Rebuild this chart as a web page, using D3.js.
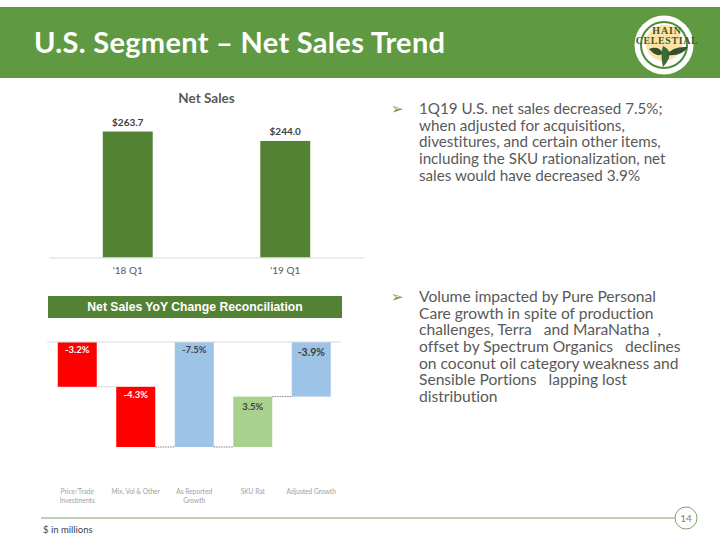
<!DOCTYPE html>
<html>
<head>
<meta charset="utf-8">
<script src="https://cdn.jsdelivr.net/npm/d3@7"></script>
<style>
  html, body { margin: 0; padding: 0; background: #fff; }
  svg { display: block; }
  text { font-family: "Lato", "Open Sans", sans-serif; font-variant-ligatures: none; }
</style>
</head>
<body>
<div id="chart"></div>
<script>
// DATA
const salesPeriods = ["'18 Q1", "'19 Q1"];
const salesValues = [263.7, 244.0];

const bridgeNames = [
  ["Price/Trade", "Investments"],
  ["Mix, Vol & Other"],
  ["As Reported", "Growth"],
  ["SKU Rat"],
  ["Adjusted Growth"]
];
const bridgeStart = [0, -3.2, 0, -7.5, 0];
const bridgeEnd = [-3.2, -7.5, -7.5, -3.9, -3.9];
const bridgeLabels = ["-3.2%", "-4.3%", "-7.5%", "3.5%", "-3.9%"];
const bridgeColors = ["#ff0000", "#ff0000", "#9dc3e6", "#a9d18e", "#9dc3e6"];
const bridgeLabelColors = ["#ffffff", "#ffffff", "#404040", "#404040", "#404040"];

const bulletOne = [
  "1Q19 U.S. net sales decreased 7.5%;",
  "when adjusted for acquisitions,",
  "divestitures, and certain other items,",
  "including the SKU rationalization, net",
  "sales would have decreased 3.9%"
];
const bulletTwo = [
  "Volume impacted by Pure Personal",
  "Care growth in spite of production",
  "challenges, Terra   and MaraNatha  ,",
  "offset by Spectrum Organics   declines",
  "on coconut oil category weakness and",
  "Sensible Portions   lapping lost",
  "distribution"
];

const svg = d3.select("#chart").append("svg")
  .attr("width", 720)
  .attr("height", 540);

// HEADER
svg.append("rect").attr("x", 0).attr("y", 7).attr("width", 720).attr("height", 71).attr("fill", "#5f9a42");
svg.append("text")
  .attr("x", 34).attr("y", 53)
  .attr("font-size", 29).attr("font-weight", "bold").attr("fill", "#fff")
  .attr("letter-spacing", 0.3)
  .text("U.S. Segment – Net Sales Trend");

// LOGO
const logo = svg.append("g").attr("transform", "translate(664, 45)");
logo.append("circle").attr("r", 29.5).attr("fill", "#fff");
logo.append("circle").attr("r", 23).attr("fill", "#fff").attr("stroke", "#4f8a35").attr("stroke-width", 2);
logo.append("circle").attr("cy", -2).attr("r", 18).attr("fill", "#fbe3a6");
logo.append("text").attr("x", 3).attr("y", -11).attr("text-anchor", "middle")
  .attr("font-size", 10).attr("font-weight", "bold").attr("fill", "#4b5320")
  .style("font-family", "'Liberation Serif'").attr("letter-spacing", 0.8).text("HAIN");
logo.append("text").attr("x", 3).attr("y", -1).attr("text-anchor", "middle")
  .attr("font-size", 10).attr("font-weight", "bold").attr("fill", "#4b5320")
  .style("font-family", "'Liberation Serif'").attr("letter-spacing", 0.6).text("CELESTIAL");
logo.append("path").attr("d", "M-15 4 Q-6 0 -1 8 Q-6 14 -15 4Z").attr("fill", "#35502c");
logo.append("path").attr("d", "M-1 22 Q-4 9 -1 1 Q7 4 5 13 Q3 18 -1 22Z").attr("fill", "#3d6a33");
logo.append("path").attr("d", "M3 10 Q8 1 24 2 Q17 12 3 10Z").attr("fill", "#35502c");

// NET SALES CHART
const xSales = d3.scaleBand().domain(salesPeriods).range([49, 364]).paddingInner(0.683).paddingOuter(0.3415);
const ySales = d3.scaleLinear().domain([0, 300]).range([257.5, 114.2]);

svg.append("text")
  .attr("x", 206.5).attr("y", 103).attr("text-anchor", "middle")
  .attr("font-size", 13.5).attr("font-weight", "bold").attr("fill", "#595959")
  .text("Net Sales");

svg.append("g").selectAll("rect").data(salesValues).enter().append("rect")
  .attr("x", (d, i) => xSales(salesPeriods[i]))
  .attr("y", d => ySales(d))
  .attr("width", xSales.bandwidth())
  .attr("height", d => ySales(0) - ySales(d))
  .attr("fill", "#548235");

svg.append("g").selectAll("text").data(salesValues).enter().append("text")
  .attr("x", (d, i) => xSales(salesPeriods[i]) + xSales.bandwidth() / 2)
  .attr("y", d => ySales(d) - 5.5)
  .attr("text-anchor", "middle")
  .attr("font-size", 10).attr("font-weight", "bold").attr("fill", "#404040")
  .text(d => "$" + d.toFixed(1));

const salesAxis = svg.append("g")
  .attr("transform", `translate(0, ${ySales(0)})`)
  .call(d3.axisBottom(xSales).tickSize(0).tickPadding(9));
salesAxis.select(".domain").attr("stroke", "#d9d9d9").attr("stroke-width", 1);
salesAxis.selectAll("text").attr("font-size", 10).attr("fill", "#595959").style("font-family", "Lato");

// RECONCILIATION HEADER
svg.append("rect").attr("x", 48).attr("y", 296).attr("width", 294).attr("height", 22).attr("fill", "#548235");
svg.append("text")
  .attr("x", 195).attr("y", 311).attr("text-anchor", "middle")
  .attr("font-size", 12.2).attr("font-weight", "bold").attr("fill", "#fff")
  .style("font-family", "'Liberation Sans'")
  .text("Net Sales YoY Change Reconciliation");

// BRIDGE CHART
const bridgeIdx = d3.range(bridgeLabels.length);
const xBridge = d3.scaleBand().domain(bridgeIdx).range([48, 340.5]).paddingInner(0.333).paddingOuter(0.1665);
const yBridge = d3.scaleLinear().domain([-10, 0]).range([482, 342]);

svg.append("g").selectAll("line").data(bridgeIdx.slice(0, -1)).enter().append("line")
  .attr("x1", i => xBridge(i) + xBridge.bandwidth())
  .attr("x2", i => xBridge(i + 1))
  .attr("y1", i => yBridge(bridgeEnd[i]))
  .attr("y2", i => yBridge(bridgeEnd[i]))
  .attr("stroke", (d, i) => i === 0 ? "#d9d9d9" : "#7f7f7f")
  .attr("stroke-width", 1)
  .attr("stroke-dasharray", (d, i) => i === 0 ? null : "1.5 1");

svg.append("g").selectAll("rect").data(bridgeIdx).enter().append("rect")
  .attr("x", i => xBridge(i))
  .attr("y", i => yBridge(Math.max(bridgeStart[i], bridgeEnd[i])))
  .attr("width", xBridge.bandwidth())
  .attr("height", i => Math.abs(yBridge(bridgeStart[i]) - yBridge(bridgeEnd[i])))
  .attr("fill", i => bridgeColors[i]);

svg.append("line")
  .attr("x1", 47).attr("x2", 341)
  .attr("y1", yBridge(0)).attr("y2", yBridge(0))
  .attr("stroke", "#d9d9d9");

svg.append("g").selectAll("text").data(bridgeIdx).enter().append("text")
  .attr("x", i => xBridge(i) + xBridge.bandwidth() / 2)
  .attr("y", i => yBridge(Math.max(bridgeStart[i], bridgeEnd[i])) + (i >= 3 ? 13.5 : 11))
  .attr("text-anchor", "middle")
  .attr("font-size", i => i === 4 ? 10.5 : 9.5).attr("font-weight", "bold")
  .attr("fill", i => bridgeLabelColors[i])
  .text(i => bridgeLabels[i]);

const bridgeTicks = svg.append("g").selectAll("text").data(bridgeIdx).enter().append("text")
  .attr("x", i => xBridge(i) + xBridge.bandwidth() / 2)
  .attr("y", 494)
  .attr("text-anchor", "middle")
  .attr("font-size", 6.6).attr("fill", "#a0a0a0");
bridgeTicks.selectAll("tspan").data(i => bridgeNames[i]).enter().append("tspan")
  .attr("x", function () { return d3.select(this.parentNode).attr("x"); })
  .attr("dy", (d, i) => i === 0 ? 0 : 9)
  .text(d => d);

// RIGHT HAND TEXT
function bullets(lines, top, size) {
  svg.append("text")
    .attr("x", 391).attr("y", top)
    .attr("font-size", 15).attr("fill", "#6f9a4a")
    .style("font-family", "'DejaVu Sans'")
    .text("➢");
  svg.append("g").selectAll("text").data(lines).enter().append("text")
    .attr("x", 419)
    .attr("y", (d, i) => top + i * 16.67)
    .attr("font-size", size).attr("fill", "#595959")
    .style("white-space", "pre")
    .text(d => d);
}
bullets(bulletOne, 114, 15.2);
bullets(bulletTwo, 302, 15.6);

// FOOTER
svg.append("line").attr("x1", 41).attr("x2", 675).attr("y1", 518).attr("y2", 518)
  .attr("stroke", "#a9c19a").attr("stroke-width", 1.5);
svg.append("circle").attr("cx", 686).attr("cy", 518).attr("r", 11)
  .attr("fill", "#fff").attr("stroke", "#7fa56c").attr("stroke-width", 1);
svg.append("text").attr("x", 686).attr("y", 522).attr("text-anchor", "middle")
  .attr("font-size", 10).attr("fill", "#7f7f7f").text("14");
svg.append("text").attr("x", 43).attr("y", 533)
  .attr("font-size", 9.5).attr("fill", "#404040").text("$ in millions");
</script>
</body>
</html>
